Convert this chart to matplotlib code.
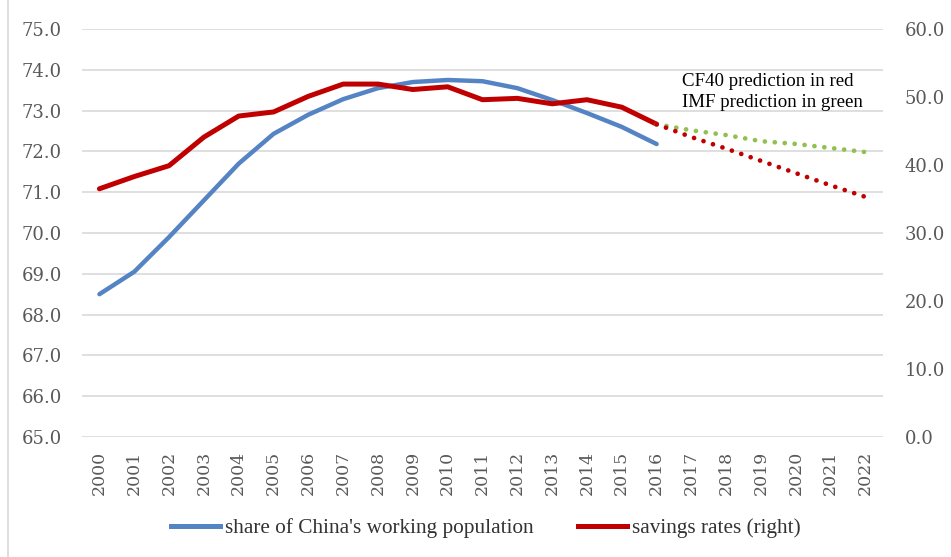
import matplotlib.pyplot as plt
from matplotlib.lines import Line2D

plt.rcParams['font.family'] = ['Liberation Serif', 'DejaVu Serif']

years = list(range(2000, 2023))
hist_years = list(range(2000, 2017))
pred_years = list(range(2016, 2023))

working_share = [68.5, 69.05, 69.9, 70.8, 71.7, 72.43, 72.9, 73.28, 73.55, 73.7,
                 73.75, 73.72, 73.55, 73.26, 72.94, 72.6, 72.18]
savings = [36.5, 38.3, 39.9, 44.1, 47.2, 47.8, 50.1, 51.9, 51.9, 51.1,
           51.5, 49.6, 49.8, 49.0, 49.6, 48.5, 46.0]
cf40_pred = [46.0, 44.1, 42.4, 40.6, 38.8, 37.0, 35.3]
imf_pred = [46.0, 45.1, 44.4, 43.5, 43.1, 42.5, 41.9]

blue = '#5584c4'
red = '#c00000'
green = '#92c050'
grey = '#595959'

fig = plt.figure(figsize=(9.51, 5.57), dpi=100)
ax = fig.add_axes([82 / 951, 1 - 437 / 557, (883 - 82) / 951, (437 - 29) / 557])
ax2 = ax.twinx()

ax.set_ylim(65, 75)
ax.set_yticks([65 + i for i in range(11)])
ax.set_yticklabels([f'{65 + i:.1f}' for i in range(11)])
ax2.set_ylim(0, 60)
ax2.set_yticks([0, 10, 20, 30, 40, 50, 60])
ax2.set_yticklabels([f'{v:.1f}' for v in [0, 10, 20, 30, 40, 50, 60]])
ax.set_xlim(1999.5, 2022.5)
ax.set_xticks(years)
ax.set_xticklabels([str(y) for y in years], rotation=90)

ax.grid(axis='y', color='#d9d9d9', linewidth=1.2)
ax.set_axisbelow(True)
for a in (ax, ax2):
    for s in a.spines.values():
        s.set_visible(False)
    a.tick_params(length=0, labelcolor=grey, labelsize=13,
                  labelfontfamily='DejaVu Serif')
ax.tick_params(axis='x', labelsize=12.5, pad=10)
ax.tick_params(axis='y', pad=14.4)
ax2.tick_params(axis='y', pad=15.8)

ax.plot(hist_years, working_share, color=blue, lw=3.2, solid_capstyle='round')
ax2.plot(hist_years, savings, color=red, lw=3.6, solid_capstyle='round')
ax2.plot(pred_years, imf_pred, color=green, lw=3.4, linestyle=(0, (0.01, 2.1)),
         dash_capstyle='round')
ax2.plot(pred_years, cf40_pred, color=red, lw=3.4, linestyle=(0, (0.01, 2.1)),
         dash_capstyle='round')

ax2.text(2016.72, 52.3, 'CF40 prediction in red', fontsize=13.6, color='black', va='center')
ax2.text(2016.72, 49.2, 'IMF prediction in green', fontsize=13.6, color='black', va='center')

handles = [Line2D([], [], color=blue, lw=3.6), Line2D([], [], color=red, lw=3.6)]
fig.legend(handles, ["share of China's working population", 'savings rates (right)'],
           loc='center', bbox_to_anchor=(0.511, 1 - 528 / 557), ncol=2, frameon=False,
           fontsize=15.3, handlelength=2.3, handletextpad=0.25, columnspacing=2.1,
           labelcolor='#333333')

fig.add_artist(Line2D([8 / 951, 8 / 951], [0, 1], color='#d9d9d9', lw=1.2))

fig.savefig('out.png', dpi=100)
